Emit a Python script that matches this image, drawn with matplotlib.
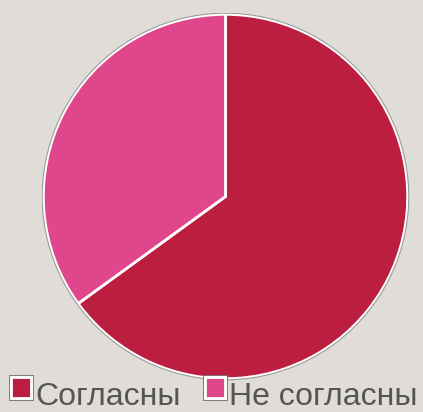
import matplotlib
matplotlib.use('Agg')
import matplotlib.pyplot as plt
import matplotlib.patches as mpatches
import matplotlib.patheffects as pe
from matplotlib.legend_handler import HandlerPatch

labels = ['Согласны', 'Не согласны']
values = [65, 35]
colors = ['#BC1E40', '#E0468B']

bg = '#E0DDD8'
W, H = 423, 412

fig = plt.figure(figsize=(W / 100, H / 100), dpi=100, facecolor=bg)

# pie centre and radius in pixels
cx, cy, r = 225.5, 196.5, 184
ax = fig.add_axes([(cx - r) / W, (H - cy - r) / H, 2 * r / W, 2 * r / H])
ax.set_facecolor(bg)

ax.pie(values, colors=colors, startangle=90, counterclock=False, radius=1,
       wedgeprops=dict(edgecolor='white', linewidth=2))
ax.add_patch(mpatches.Circle((0, 0), 1.006, fill=False, edgecolor='#9a9a9a', linewidth=0.8))
ax.set_xlim(-1.01, 1.01)
ax.set_ylim(-1.01, 1.01)
ax.set_aspect('equal')
ax.axis('off')


def raised_box(legend, orig_handle, xdescent, ydescent, width, height, fontsize):
    # legend squares sit a bit higher than the text
    return mpatches.Rectangle((-xdescent, -ydescent + 5), width, height)


handles = []
for lab, c in zip(labels, colors):
    p = mpatches.Rectangle((0, 0), 1, 1, facecolor=c, edgecolor='white', linewidth=2, label=lab)
    p.set_path_effects([pe.withStroke(linewidth=3.5, foreground='#777777'), pe.Normal()])
    handles.append(p)

leg = fig.legend(handles=handles, loc='lower center', bbox_to_anchor=(0.507, -0.032), ncol=2,
                 frameon=False, handlelength=0.62, handleheight=0.62,
                 handletextpad=0.14, columnspacing=0.75, borderaxespad=0,
                 handler_map={mpatches.Rectangle: HandlerPatch(patch_func=raised_box)},
                 prop={'family': 'Liberation Sans', 'size': 23})
for t in leg.get_texts():
    t.set_color('#555555')

fig.savefig('out.png', dpi=100, facecolor=bg)
